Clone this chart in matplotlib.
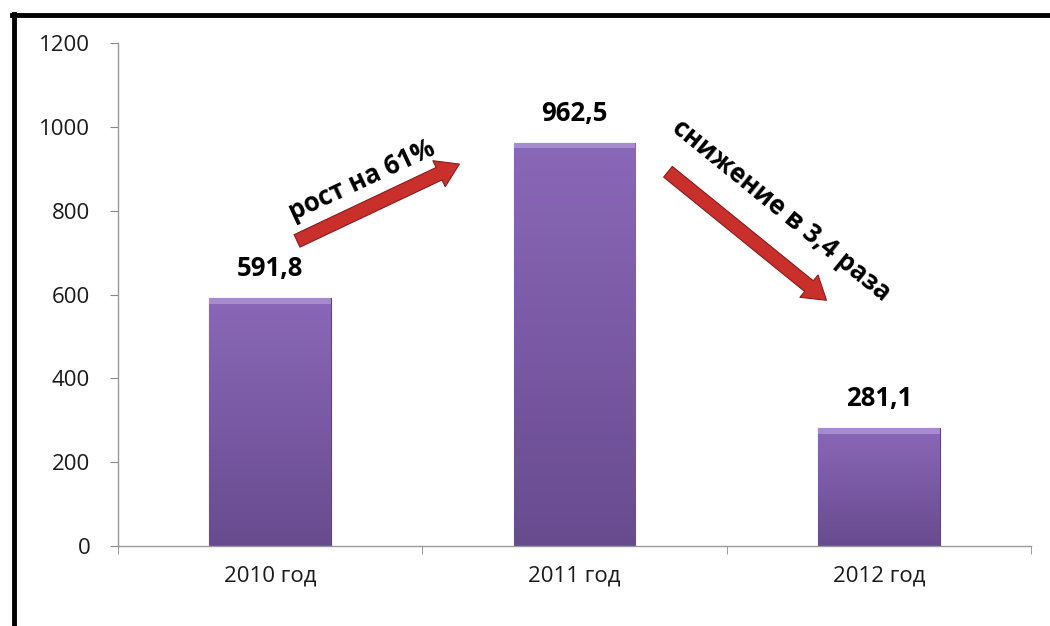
import numpy as np
import matplotlib.pyplot as plt
from matplotlib.lines import Line2D
from matplotlib.colors import LinearSegmentedColormap

plt.rcParams['font.family'] = ['Open Sans', 'DejaVu Sans']

# данные
years = ["2010 год", "2011 год", "2012 год"]
values = [591.8, 962.5, 281.1]
value_labels = ["591,8", "962,5", "281,1"]
yticks = [0, 200, 400, 600, 800, 1000, 1200]

fig = plt.figure(figsize=(10.5, 6.26), dpi=100)
ax = fig.add_axes([0.1124, 0.1278, 0.8695, 0.8035])

x = np.arange(len(years))
bars = ax.bar(x, values, width=0.4, color="#7b5aa6", edgecolor="#5e437f", linewidth=0.8, zorder=2)

# вертикальный градиент на столбцах
grad = np.linspace(0, 1, 256).reshape(-1, 1)
cmap = LinearSegmentedColormap.from_list("purp", ["#684b8f", "#8a68b8"])
for b in bars:
    x0, y0 = b.get_x(), b.get_y()
    w, h = b.get_width(), b.get_height()
    im = ax.imshow(grad, extent=[x0, x0 + w, y0, y0 + h], origin="lower",
                   cmap=cmap, aspect="auto", zorder=2.5)
    im.set_clip_path(b)
    # светлая кромка сверху
    ax.fill_between([x0, x0 + w], y0 + h - 14, y0 + h, color="#a68bd0", zorder=2.6, lw=0)

for xi, v, lab in zip(x, values, value_labels):
    ax.text(xi, v + 38, lab, ha="center", va="bottom", fontsize=18.5, fontweight="bold", zorder=4)

ax.set_xlim(-0.5, 2.5)
ax.set_ylim(0, 1200)
ax.set_yticks(yticks)
ax.set_yticklabels([str(t) for t in yticks], fontsize=16, color="#1a1a1a")
ax.set_xticks(x)
ax.set_xticklabels(years, fontsize=16, color="#1a1a1a")
ax.set_xticks([-0.5, 0.5, 1.5, 2.5], minor=True)
ax.tick_params(axis="x", which="major", length=0, pad=14)
ax.tick_params(axis="x", which="minor", length=6, color="#888888", direction="out")
ax.tick_params(axis="y", length=6, color="#888888", direction="out", pad=14)

for s in ["top", "right"]:
    ax.spines[s].set_visible(False)
for s in ["left", "bottom"]:
    ax.spines[s].set_color("#999999")
    ax.spines[s].set_linewidth(1)

# стрелки
arrow_style = "simple,head_length=0.9,head_width=1.15,tail_width=0.55"
ax.annotate("", xy=(0.63, 914), xytext=(0.08, 725),
            arrowprops=dict(arrowstyle=arrow_style, mutation_scale=18,
                            fc="#c9302c", ec="#8b1a1a", lw=0.8), zorder=3)
ax.annotate("", xy=(1.835, 582), xytext=(1.30, 897),
            arrowprops=dict(arrowstyle=arrow_style, mutation_scale=18,
                            fc="#c9302c", ec="#8b1a1a", lw=0.8), zorder=3)

ax.text(0.30, 872, "рост на 61%", rotation=25, ha="center", va="center",
        fontsize=18.5, fontweight="bold", rotation_mode="anchor")
ax.text(1.68, 802, "снижение в 3,4 раза", rotation=-39, ha="center", va="center",
        fontsize=18.5, fontweight="bold", rotation_mode="anchor")

# рамка
fig.add_artist(Line2D([0.0133, 0.0133], [0, 0.978], color="black", lw=3.5, transform=fig.transFigure))
fig.add_artist(Line2D([0.0115, 1.0], [0.976, 0.976], color="black", lw=3.5, transform=fig.transFigure))

fig.savefig("out.png", dpi=100)
